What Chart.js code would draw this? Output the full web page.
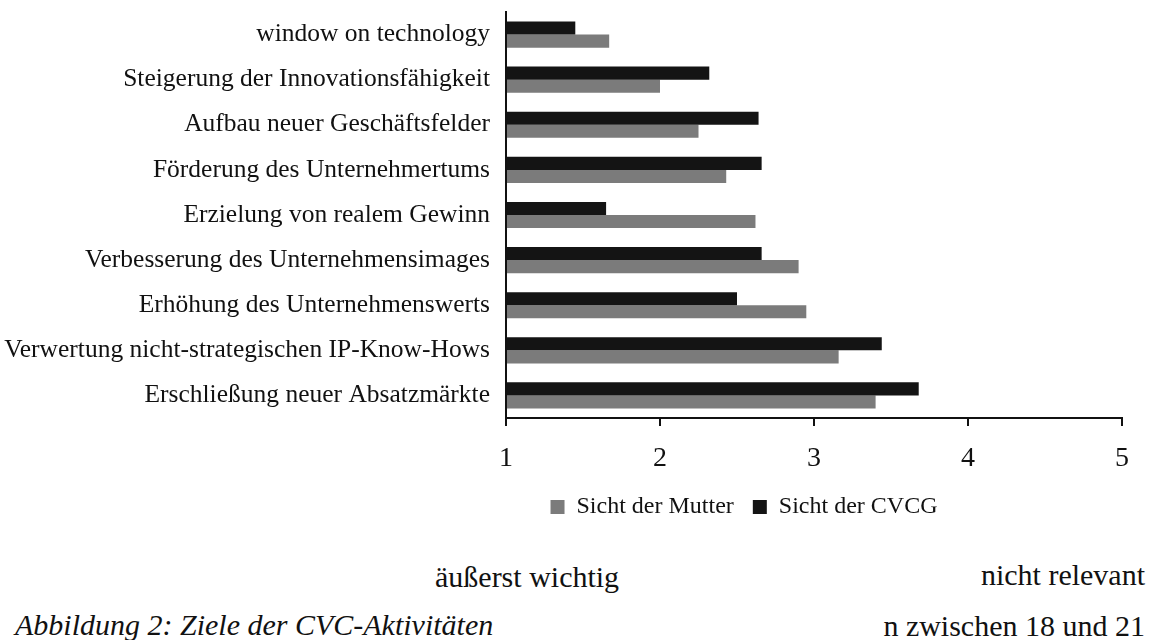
<!DOCTYPE html>
<html>
<head>
<meta charset="utf-8">
<script src="https://cdn.jsdelivr.net/npm/chart.js@4.4.1/dist/chart.umd.min.js"></script>
<style>
  html, body { margin: 0; padding: 0; background: #ffffff; }
  body { width: 1155px; height: 640px; overflow: hidden; position: relative; font-family: "Liberation Serif", "Times New Roman", serif; }
  #wrap { position: absolute; left: 0; top: 0; width: 1155px; height: 529px; }
  .note { position: absolute; font-size: 30px; color: #111; white-space: nowrap; line-height: 34px; }
</style>
</head>
<body>
<div id="wrap"><canvas id="c"></canvas></div>
<div class="note" style="left:435px; top:560px;">äußerst wichtig</div>
<div class="note" style="right:10px; top:558px;">nicht relevant</div>
<div class="note" style="left:15px; top:608px; font-style:italic;">Abbildung 2: Ziele der CVC-Aktivitäten</div>
<div class="note" style="right:10px; top:609px;">n zwischen 18 und 21</div>
<script>
const categories = [
  "window on technology",
  "Steigerung der Innovationsfähigkeit",
  "Aufbau neuer Geschäftsfelder",
  "Förderung des Unternehmertums",
  "Erzielung von realem Gewinn",
  "Verbesserung des Unternehmensimages",
  "Erhöhung des Unternehmenswerts",
  "Verwertung nicht-strategischen IP-Know-Hows",
  "Erschließung neuer Absatzmärkte"
];
const sichtCVCG   = [1.45, 2.32, 2.64, 2.66, 1.65, 2.66, 2.50, 3.44, 3.68];
const sichtMutter = [1.67, 2.00, 2.25, 2.43, 2.62, 2.90, 2.95, 3.16, 3.40];
const seriesNames = ["Sicht der CVCG", "Sicht der Mutter"];
const xTicks = [1, 2, 3, 4, 5];

const serif = "'Liberation Serif', 'Times New Roman', serif";

const legendShift = {
  id: 'legendShift',
  afterLayout(chart) {
    if (chart.legend) { chart.legend.left -= 70; chart.legend.right -= 70; }
  }
};

new Chart(document.getElementById('c'), {
  type: 'bar',
  data: {
    labels: categories,
    datasets: [
      { label: seriesNames[0], data: sichtCVCG, backgroundColor: '#141414', borderWidth: 0 },
      { label: seriesNames[1], data: sichtMutter, backgroundColor: '#7b7b7b', borderWidth: 0 }
    ]
  },
  plugins: [legendShift],
  options: {
    indexAxis: 'y',
    responsive: true,
    maintainAspectRatio: false,
    animation: false,
    datasets: { bar: { categoryPercentage: 0.58, barPercentage: 1.0, base: 1 } },
    layout: { padding: { top: 12, right: 33, left: 0, bottom: 0 } },
    plugins: {
      tooltip: { enabled: false },
      legend: {
        position: 'bottom',
        fullSize: false,
        reverse: true,
        labels: {
          color: '#111',
          font: { family: serif, size: 24 },
          boxWidth: 14,
          boxHeight: 14,
          padding: 19
        }
      }
    },
    scales: {
      x: {
        type: 'linear',
        min: 1,
        max: 5,
        afterBuildTicks: (scale) => { scale.ticks = xTicks.map(v => ({ value: v })); },
        afterFit: (scale) => { scale.height = 58; },
        grid: { display: true, drawOnChartArea: false, drawTicks: true, tickLength: 8, color: '#111', lineWidth: 2 },
        border: { display: true, color: '#111', width: 2 },
        ticks: { color: '#111', font: { family: serif, size: 28 }, padding: 16 }
      },
      y: {
        afterFit: (scale) => { scale.width = 506; scale.paddingTop = 0; scale.paddingBottom = 0; },
        grid: { display: false, drawTicks: false },
        border: { display: true, color: '#111', width: 2 },
        ticks: { color: '#111', font: { family: serif, size: 25.5 }, padding: 16 }
      }
    }
  }
});
</script>
</body>
</html>
